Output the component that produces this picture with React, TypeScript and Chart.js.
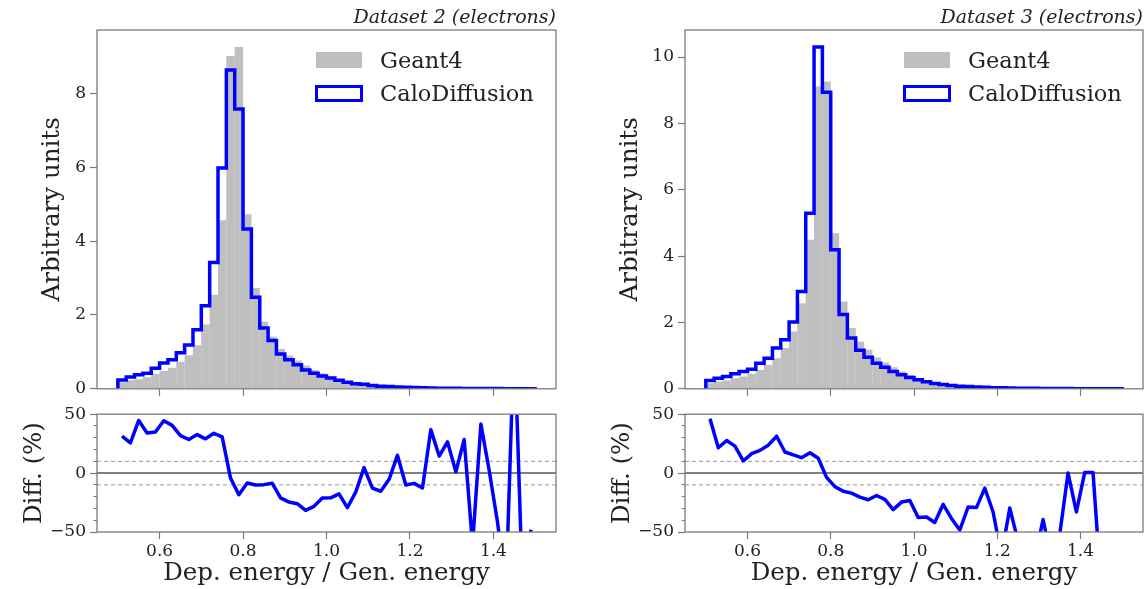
import React, { useEffect, useRef } from 'react';
import { Chart, registerables } from 'chart.js';

Chart.register(...registerables);

const SERIF = "'DejaVu Serif', 'Liberation Serif', serif";
const BLUE = '#0000ff';
const GREY = '#bfbfbf';
const AXIS = '#7a7a7a';
const TXT = '#222222';

// ---------- data ----------
const binCenters = [
  0.51, 0.53, 0.55, 0.57, 0.59, 0.61, 0.63, 0.65, 0.67, 0.69,
  0.71, 0.73, 0.75, 0.77, 0.79, 0.81, 0.83, 0.85, 0.87, 0.89,
  0.91, 0.93, 0.95, 0.97, 0.99, 1.01, 1.03, 1.05, 1.07, 1.09,
  1.11, 1.13, 1.15, 1.17, 1.19, 1.21, 1.23, 1.25, 1.27, 1.29,
  1.31, 1.33, 1.35, 1.37, 1.39, 1.41, 1.43, 1.45, 1.47, 1.49,
];

const xTickValues = [0.6, 0.8, 1.0, 1.2, 1.4];
const xMin = 0.45;
const xMax = 1.55;

const seriesNames = ['Geant4', 'CaloDiffusion'];
const panelTitles = ['Dataset 2 (electrons)', 'Dataset 3 (electrons)'];
const xTitle = 'Dep. energy / Gen. energy';
const yTitleTop = 'Arbitrary units';
const yTitleDiff = 'Diff. (%)';

const ds2Geant = [
  0.18, 0.23, 0.26, 0.31, 0.40, 0.48, 0.57, 0.73, 0.91, 1.18,
  1.74, 2.55, 4.57, 9.02, 9.26, 4.73, 2.73, 1.82, 1.41, 1.08,
  0.90, 0.77, 0.63, 0.51, 0.42, 0.33, 0.26, 0.20, 0.16, 0.12,
  0.10, 0.08, 0.065, 0.05, 0.04, 0.035, 0.03, 0.025, 0.02, 0.017,
  0.014, 0.012, 0.01, 0.008, 0.007, 0.006, 0.005, 0.004, 0.003, 0.003,
];
const ds2Calo = [
  0.24, 0.32, 0.38, 0.42, 0.56, 0.70, 0.79, 0.98, 1.19, 1.60,
  2.25, 3.42, 5.98, 8.64, 7.58, 4.33, 2.48, 1.65, 1.31, 0.94,
  0.79, 0.65, 0.51, 0.42, 0.35, 0.29, 0.23, 0.18, 0.14, 0.12,
  0.09, 0.07, 0.06, 0.05, 0.04, 0.032, 0.027, 0.022, 0.018, 0.015,
  0.012, 0.01, 0.008, 0.007, 0.006, 0.005, 0.004, 0.003, 0.003, 0.002,
];
const ds2Diff = [
  31.3, 25.7, 44.7, 34.1, 34.9, 44.4, 40.5, 31.8, 28.5, 32.7,
  29.1, 33.8, 30.7, -4.2, -18.4, -8.4, -10.1, -9.8, -8.7, -21,
  -24.6, -26, -31.6, -28.2, -21.2, -21, -17.6, -29.3, -16.2, 4.7,
  -12.8, -15.4, -5.3, 15.1, -10.1, -8.7, -12.6, 36.9, 14.5, 26.5,
  1.1, 28.5, -61, 41.6, 2, -42, -100, 120, -100, -48,
];

const ds3Geant = [
  0.17, 0.22, 0.25, 0.32, 0.37, 0.45, 0.57, 0.72, 0.92, 1.23,
  1.73, 2.58, 4.49, 9.11, 9.26, 4.69, 2.63, 1.83, 1.42, 1.18,
  0.94, 0.79, 0.65, 0.52, 0.42, 0.32, 0.25, 0.19, 0.15, 0.11,
  0.09, 0.08, 0.065, 0.05, 0.04, 0.035, 0.03, 0.025, 0.02, 0.017,
  0.014, 0.012, 0.01, 0.008, 0.007, 0.006, 0.005, 0.004, 0.003, 0.003,
];
const ds3Calo = [
  0.25, 0.32, 0.37, 0.45, 0.52, 0.59, 0.77, 0.92, 1.23, 1.48,
  2.01, 2.93, 5.29, 10.30, 8.94, 4.19, 2.24, 1.53, 1.16, 0.95,
  0.77, 0.65, 0.52, 0.42, 0.34, 0.27, 0.21, 0.16, 0.13, 0.10,
  0.08, 0.07, 0.055, 0.045, 0.035, 0.03, 0.025, 0.02, 0.016, 0.013,
  0.011, 0.009, 0.007, 0.006, 0.005, 0.004, 0.003, 0.003, 0.002, 0.002,
];
const ds3Diff = [
  46.1, 21.5, 27.7, 22.9, 10.3, 16.5, 19.3, 23.7, 31.3, 17.9,
  15.4, 13.1, 17.3, 12.6, -3.6, -11.5, -15.4, -17, -20.4, -22.6,
  -19, -22.3, -31, -24.6, -23.2, -37.7, -37.2, -41.9, -26.5, -38.5,
  -48.3, -28.8, -29.3, -12.8, -33, -70, -29.6, -58, -80, -73,
  -39.4, -73, -52, 0, -33, 0.5, 0.5, -100, -100, -100,
];

const ds2YTicks = [0, 2, 4, 6, 8];
const ds3YTicks = [0, 2, 4, 6, 8, 10];
const diffMajorTicks = [-50, 0, 50];
const diffMinorTicks = [-40, -30, -20, -10, 10, 20, 30, 40];
const refLevels = [10, -10, 0];
const diffRange = [-50, 50];

Chart.defaults.font.family = SERIF;

const TITLE_SIZE = 24.5;
const TICK_SIZE = 17;

const framePlugin = {
  id: 'frame',
  afterDatasetsDraw(chart: any) {
    const { ctx, chartArea: a } = chart;
    ctx.save();
    ctx.strokeStyle = AXIS;
    ctx.lineWidth = 1.3;
    ctx.strokeRect(a.left, a.top, a.right - a.left, a.bottom - a.top);
    ctx.restore();
  },
};

const fmtTick = (v: number) => (v < 0 ? '\u2212' + Math.abs(v) : String(v));

interface PanelSpec {
  dx: number;
  width: number;
  padRight: number;
  title: string;
  geant: number[];
  calo: number[];
  diff: number[];
  yTicks: number[];
  yTitlePad: number;
}

function topConfig(p: PanelSpec): any {
  const half = (binCenters[1] - binCenters[0]) / 2;
  const last = binCenters.length - 1;
  const stepData = [
    { x: binCenters[0] - half, y: 0 },
    ...p.calo.map((v, i) => ({ x: binCenters[i] - half, y: v })),
    { x: binCenters[last] + half, y: 0 },
  ];
  const peak = Math.max(...p.geant, ...p.calo);
  return {
    type: 'bar',
    data: {
      datasets: [
        {
          type: 'line',
          label: seriesNames[1],
          data: stepData,
          stepped: 'before',
          borderColor: BLUE,
          borderWidth: 3.5,
          borderJoinStyle: 'miter',
          pointRadius: 0,
          fill: false,
          order: 0,
        },
        {
          type: 'bar',
          label: seriesNames[0],
          data: binCenters.map((x, i) => ({ x, y: p.geant[i] })),
          backgroundColor: GREY,
          borderWidth: 0,
          barPercentage: 1.02,
          categoryPercentage: 1,
          order: 1,
        },
      ],
    },
    options: {
      animation: false,
      responsive: false,
      events: [],
      layout: { padding: { left: 0, right: p.padRight, top: 0, bottom: 0 } },
      plugins: {
        legend: { display: false },
        tooltip: { enabled: false },
        title: {
          display: true,
          text: p.title,
          align: 'end',
          fullSize: false,
          color: TXT,
          font: { family: SERIF, size: 19, style: 'italic', weight: 'normal' },
          padding: { top: 7, bottom: 0.2 },
        },
      },
      scales: {
        x: {
          type: 'linear',
          min: xMin,
          max: xMax,
          offset: false,
          afterBuildTicks: (s: any) => { s.ticks = xTickValues.map((v) => ({ value: v })); },
          ticks: { display: false },
          grid: { display: true, drawOnChartArea: false, drawTicks: true, tickLength: 7, tickColor: AXIS, tickWidth: 1.2, offset: false },
          border: { display: false },
          afterFit: (s: any) => { s.height = 14; },
        },
        y: {
          type: 'linear',
          min: 0,
          max: peak * 1.05,
          afterBuildTicks: (s: any) => { s.ticks = p.yTicks.map((v) => ({ value: v })); },
          ticks: { font: { family: SERIF, size: TICK_SIZE }, color: TXT, padding: 4, callback: (v: any) => fmtTick(v) },
          grid: { display: true, drawOnChartArea: false, drawTicks: true, tickLength: 7, tickColor: AXIS, tickWidth: 1.2 },
          border: { display: false },
          title: { display: true, text: yTitleTop, color: TXT, font: { family: SERIF, size: TITLE_SIZE }, padding: { top: p.yTitlePad, bottom: 0 } },
          afterFit: (s: any) => { s.width = 97; },
        },
      },
    },
    plugins: [framePlugin],
  };
}

function bottomConfig(p: PanelSpec): any {
  const refSets = refLevels.map((lvl) => ({
    label: 'ref' + lvl,
    data: [xMin, xMax].map((x) => ({ x, y: lvl })),
    borderColor: lvl === 0 ? '#555555' : '#9a9a9a',
    borderWidth: lvl === 0 ? 1.5 : 1,
    borderDash: lvl === 0 ? [] : [4, 3],
    pointRadius: 0,
    fill: false,
    order: 1,
  }));
  return {
    type: 'line',
    data: {
      datasets: [
        {
          label: 'diff',
          data: binCenters.map((x, i) => ({ x, y: p.diff[i] })),
          borderColor: BLUE,
          borderWidth: 3.5,
          borderJoinStyle: 'round',
          pointRadius: 0,
          fill: false,
          clip: 0,
          order: 0,
        },
        ...refSets,
      ],
    },
    options: {
      animation: false,
      responsive: false,
      events: [],
      layout: { padding: { left: 0, right: p.padRight, top: 13, bottom: 0 } },
      plugins: { legend: { display: false }, tooltip: { enabled: false } },
      scales: {
        x: {
          type: 'linear',
          min: xMin,
          max: xMax,
          afterBuildTicks: (s: any) => { s.ticks = xTickValues.map((v) => ({ value: v })); },
          ticks: { font: { family: SERIF, size: TICK_SIZE }, color: TXT, padding: 2, maxRotation: 0, callback: (v: any) => Number(v).toFixed(1) },
          grid: { display: true, drawOnChartArea: false, drawTicks: true, tickLength: 7, tickColor: AXIS, tickWidth: 1.2 },
          border: { display: false },
          title: { display: true, text: xTitle, color: TXT, font: { family: SERIF, size: TITLE_SIZE }, padding: { top: 0, bottom: 1 } },
          afterFit: (s: any) => { s.height = 57; },
        },
        y: {
          type: 'linear',
          position: 'left',
          weight: 1,
          min: diffRange[0],
          max: diffRange[1],
          afterBuildTicks: (s: any) => { s.ticks = diffMajorTicks.map((v) => ({ value: v })); },
          ticks: { font: { family: SERIF, size: TICK_SIZE }, color: TXT, padding: 4, callback: (v: any) => fmtTick(v) },
          grid: { display: true, drawOnChartArea: false, drawTicks: true, tickLength: 7, tickColor: AXIS, tickWidth: 1.2 },
          border: { display: false },
          title: { display: true, text: yTitleDiff, color: TXT, font: { family: SERIF, size: TITLE_SIZE }, padding: { top: 20.3, bottom: 0 } },
          afterFit: (s: any) => { s.width = 97; },
        },
        yMinor: {
          type: 'linear',
          axis: 'y',
          position: 'left',
          weight: 0,
          min: diffRange[0],
          max: diffRange[1],
          afterBuildTicks: (s: any) => { s.ticks = diffMinorTicks.map((v) => ({ value: v })); },
          ticks: { display: false },
          grid: { display: true, drawOnChartArea: false, drawTicks: true, tickLength: 3.5, tickColor: AXIS, tickWidth: 1 },
          border: { display: false },
          afterFit: (s: any) => { s.width = 0; },
        },
      },
    },
    plugins: [framePlugin],
  };
}

function ChartCanvas({ left, top, width, height, make }: { left: number; top: number; width: number; height: number; make: () => any }) {
  const ref = useRef<HTMLCanvasElement>(null);
  useEffect(() => {
    const chart = new Chart(ref.current as HTMLCanvasElement, make());
    return () => chart.destroy();
  }, []);
  return (
    <canvas
      ref={ref}
      width={width}
      height={height}
      style={{ position: 'absolute', left, top, width, height }}
    />
  );
}

function Legend({ dx }: { dx: number }) {
  const text: React.CSSProperties = {
    position: 'absolute',
    left: dx + 380,
    font: `22.5px ${SERIF}`,
    lineHeight: '22px',
    color: TXT,
    whiteSpace: 'nowrap',
  };
  return (
    <>
      <div style={{ position: 'absolute', left: dx + 316, top: 52, width: 46, height: 16, background: GREY }} />
      <div style={{ ...text, top: 49 }}>{seriesNames[0]}</div>
      <div
        style={{
          position: 'absolute', left: dx + 315, top: 85, width: 48, height: 17,
          border: `3.5px solid ${BLUE}`, boxSizing: 'border-box',
        }}
      />
      <div style={{ ...text, top: 82 }}>{seriesNames[1]}</div>
    </>
  );
}

const panels: PanelSpec[] = [
  { dx: 0, width: 572, padRight: 16, title: panelTitles[0], geant: ds2Geant, calo: ds2Calo, diff: ds2Diff, yTicks: ds2YTicks, yTitlePad: 38.3 },
  { dx: 588, width: 556, padRight: 1, title: panelTitles[1], geant: ds3Geant, calo: ds3Calo, diff: ds3Diff, yTicks: ds3YTicks, yTitlePad: 28.3 },
];

export default function App() {
  return (
    <div style={{ position: 'fixed', left: 0, top: 0, width: 1144, height: 589, overflow: 'hidden', background: '#fff' }}>
      {panels.map((p) => (
        <React.Fragment key={p.title}>
          <ChartCanvas left={p.dx} top={400} width={p.width} height={189} make={() => bottomConfig(p)} />
          <ChartCanvas left={p.dx} top={0} width={p.width} height={403} make={() => topConfig(p)} />
          <Legend dx={p.dx} />
        </React.Fragment>
      ))}
    </div>
  );
}
